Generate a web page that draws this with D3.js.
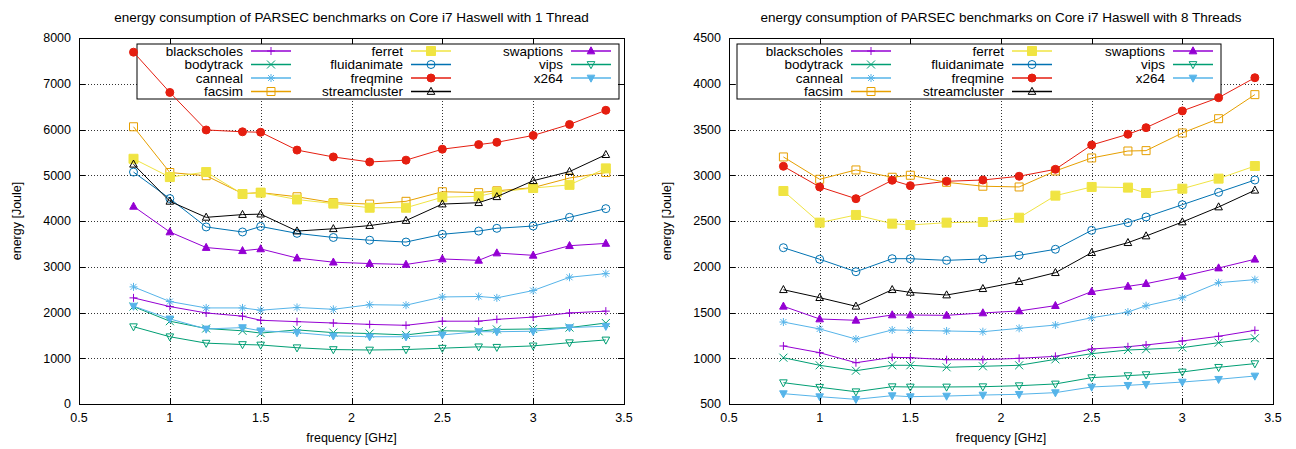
<!DOCTYPE html>
<html lang="en">

<head>
    <meta charset="UTF-8">
    <title>PARSEC energy consumption</title>
    <script src="https://cdn.jsdelivr.net/npm/d3@7"></script>
    <style>
        * {
            margin: 0;
            padding: 0;
        }

        body {
            background: #fff;
        }

        text {
            font-family: "Liberation Sans", Arial, sans-serif;
        }
    </style>
</head>

<body>
    <script>
        // frequencies measured (GHz)
        const freqs = [0.8, 1.0, 1.2, 1.4, 1.5, 1.7, 1.9, 2.1, 2.3, 2.5, 2.7, 2.8, 3.0, 3.2, 3.4];

        const benchmarks = ["blackscholes", "bodytrack", "canneal", "facsim", "ferret", "fluidanimate",
            "freqmine", "streamcluster", "swaptions", "vips", "x264"];
        const colors = ["#9400d3", "#009e73", "#56b4e9", "#e69f00", "#f0e442", "#0072b2",
            "#e51e10", "#000000", "#9400d3", "#009e73", "#56b4e9"];
        const markers = ["plus", "cross", "star", "square", "fsquare", "circle",
            "fcircle", "triangle", "ftriangle", "itriangle", "fitriangle"];

        // 1 thread (Joule)
        const t1_blackscholes = [2320, 2130, 1990, 1920, 1830, 1800, 1770, 1740, 1720, 1810, 1810, 1850, 1900, 1990, 2030];
        const t1_bodytrack = [2130, 1810, 1650, 1600, 1550, 1620, 1560, 1540, 1510, 1600, 1590, 1630, 1640, 1670, 1770];
        const t1_canneal = [2560, 2240, 2100, 2100, 2050, 2110, 2070, 2170, 2160, 2340, 2350, 2320, 2480, 2770, 2850];
        const t1_facsim = [6060, 5060, 4990, 4600, 4620, 4530, 4400, 4370, 4430, 4640, 4620, 4660, 4730, 4940, 5060];
        const t1_ferret = [5360, 4960, 5070, 4590, 4620, 4470, 4380, 4290, 4290, 4520, 4540, 4630, 4720, 4790, 5150];
        const t1_fluidanimate = [5070, 4490, 3870, 3760, 3880, 3730, 3640, 3580, 3540, 3710, 3780, 3840, 3890, 4080, 4270];
        const t1_freqmine = [7690, 6810, 5990, 5950, 5940, 5550, 5400, 5290, 5330, 5570, 5670, 5720, 5870, 6110, 6420];
        const t1_streamcluster = [5240, 4430, 4080, 4140, 4150, 3780, 3830, 3900, 4010, 4370, 4400, 4530, 4880, 5080, 5450];
        const t1_swaptions = [4320, 3760, 3420, 3350, 3390, 3190, 3100, 3070, 3050, 3170, 3140, 3300, 3250, 3460, 3510];
        const t1_vips = [1690, 1470, 1330, 1300, 1290, 1230, 1190, 1180, 1190, 1220, 1250, 1240, 1270, 1340, 1400];
        const t1_x264 = [2140, 1860, 1640, 1670, 1600, 1560, 1490, 1470, 1470, 1510, 1580, 1580, 1590, 1670, 1700];

        // 8 threads (Joule)
        const t8_blackscholes = [1134, 1061, 951, 1010, 1006, 984, 984, 999, 1021, 1101, 1126, 1145, 1189, 1240, 1305];
        const t8_bodytrack = [1006, 923, 864, 923, 923, 901, 912, 923, 988, 1050, 1090, 1098, 1116, 1170, 1218];
        const t8_canneal = [1396, 1320, 1210, 1309, 1305, 1298, 1290, 1327, 1363, 1443, 1505, 1574, 1662, 1826, 1859];
        const t8_facsim = [3200, 2956, 3058, 2978, 3000, 2923, 2880, 2872, 3047, 3189, 3265, 3269, 3462, 3618, 3881];
        const t8_ferret = [2828, 2482, 2566, 2471, 2456, 2482, 2489, 2536, 2777, 2872, 2865, 2806, 2853, 2963, 3101];
        const t8_fluidanimate = [2208, 2082, 1946, 2088, 2088, 2070, 2085, 2125, 2191, 2398, 2482, 2544, 2678, 2813, 2948];
        const t8_freqmine = [3098, 2872, 2744, 2945, 2886, 2934, 2948, 2989, 3065, 3331, 3448, 3520, 3703, 3848, 4066];
        const t8_streamcluster = [1749, 1662, 1568, 1749, 1720, 1691, 1760, 1837, 1935, 2154, 2263, 2336, 2489, 2653, 2836];
        const t8_swaptions = [1568, 1429, 1415, 1473, 1473, 1469, 1495, 1517, 1575, 1728, 1786, 1815, 1895, 1986, 2082];
        const t8_vips = [733, 683, 634, 689, 686, 686, 689, 700, 719, 788, 810, 821, 850, 901, 941];
        const t8_x264 = [613, 580, 551, 591, 580, 587, 598, 606, 624, 686, 704, 715, 740, 770, 806];

        const xTicks = [0.5, 1, 1.5, 2, 2.5, 3, 3.5];
        const yTicks1 = [0, 1000, 2000, 3000, 4000, 5000, 6000, 7000, 8000];
        const yTicks8 = [500, 1000, 1500, 2000, 2500, 3000, 3500, 4000, 4500];

        const series1 = [t1_blackscholes, t1_bodytrack, t1_canneal, t1_facsim, t1_ferret, t1_fluidanimate,
            t1_freqmine, t1_streamcluster, t1_swaptions, t1_vips, t1_x264];
        const series8 = [t8_blackscholes, t8_bodytrack, t8_canneal, t8_facsim, t8_ferret, t8_fluidanimate,
            t8_freqmine, t8_streamcluster, t8_swaptions, t8_vips, t8_x264];

        const width = 1296, height = 449;
        const svg = d3.select("body").append("svg").attr("width", width).attr("height", height);

        function markerPath(kind) {
            let s = 4;
            if (kind === "fsquare") s = 4.5;
            if (kind.includes("triangle")) s = 3.8;
            switch (kind) {
                case "plus": return `M${-s},0H${s}M0,${-s}V${s}`;
                case "cross": return `M${-s},${-s}L${s},${s}M${-s},${s}L${s},${-s}`;
                case "star": return `M${-s},0H${s}M0,${-s}V${s}M${-s * 0.75},${-s * 0.75}L${s * 0.75},${s * 0.75}M${-s * 0.75},${s * 0.75}L${s * 0.75},${-s * 0.75}`;
                case "square": case "fsquare": return `M${-s},${-s}H${s}V${s}H${-s}Z`;
                case "circle": case "fcircle": return `M${s},0A${s},${s} 0 1,1 ${-s},0A${s},${s} 0 1,1 ${s},0Z`;
                case "triangle": case "ftriangle": return `M0,${-s * 1.1}L${s},${s * 0.75}L${-s},${s * 0.75}Z`;
                default: return `M0,${s * 1.1}L${s},${-s * 0.75}L${-s},${-s * 0.75}Z`;
            }
        }

        function drawMarker(g, kind, color, x, y) {
            const filled = kind.startsWith("f");
            g.append("path")
                .attr("transform", `translate(${x},${y})`)
                .attr("d", markerPath(kind))
                .attr("fill", filled ? color : "none")
                .attr("stroke", color)
                .attr("stroke-width", 1);
        }

        function drawChart(opt) {
            const x = d3.scaleLinear().domain([0.5, 3.5]).range([opt.left, opt.right]);
            const y = d3.scaleLinear().domain(opt.yDomain).range([opt.bottom, opt.top]);
            const g = svg.append("g");

            // grid
            g.append("g").selectAll("line").data(xTicks.slice(1, -1)).join("line")
                .attr("x1", d => Math.round(x(d)) + 0.5).attr("x2", d => Math.round(x(d)) + 0.5)
                .attr("y1", opt.top).attr("y2", opt.bottom)
                .attr("stroke", "#333").attr("stroke-dasharray", "1,2");
            g.append("g").selectAll("line").data(opt.yTicks.slice(1, -1)).join("line")
                .attr("x1", opt.left).attr("x2", opt.right)
                .attr("y1", d => Math.round(y(d)) + 0.5).attr("y2", d => Math.round(y(d)) + 0.5)
                .attr("stroke", "#333").attr("stroke-dasharray", "1,2");

            // legend box (opaque, grid underneath)
            const lg = g.append("g");
            lg.append("rect")
                .attr("x", opt.legend.x).attr("y", opt.legend.y)
                .attr("width", opt.legend.w).attr("height", opt.legend.h)
                .attr("fill", "#fff").attr("stroke", "#000");
            benchmarks.forEach((name, i) => {
                const col = Math.floor(i / 4), row = i % 4;
                const tx = opt.legend.textRight + col * opt.legend.colStep;
                const ty = opt.legend.y + 7 + row * 13.5;
                lg.append("text")
                    .attr("x", tx).attr("y", ty).attr("dy", "0.35em")
                    .attr("text-anchor", "end").attr("font-size", 13.5)
                    .text(name);
                lg.append("line")
                    .attr("x1", tx + 8).attr("x2", tx + 48)
                    .attr("y1", ty).attr("y2", ty)
                    .attr("stroke", colors[i]).attr("stroke-width", 1.5);
                drawMarker(lg, markers[i], colors[i], tx + 28, ty);
            });

            // data
            const line = d3.line().x((d, j) => x(freqs[j])).y(d => y(d));
            opt.series.forEach((vals, i) => {
                const sg = g.append("g");
                sg.append("path").datum(vals)
                    .attr("d", line)
                    .attr("fill", "none")
                    .attr("stroke", colors[i])
                    .attr("stroke-width", 1);
                vals.forEach((v, j) => drawMarker(sg, markers[i], colors[i], x(freqs[j]), y(v)));
            });

            // border and ticks
            g.append("rect")
                .attr("x", opt.left + 0.5).attr("y", opt.top + 0.5)
                .attr("width", opt.right - opt.left).attr("height", opt.bottom - opt.top)
                .attr("fill", "none").attr("stroke", "#000");
            const tl = 6;
            xTicks.forEach(t => {
                const px = Math.round(x(t)) + 0.5;
                g.append("line").attr("x1", px).attr("x2", px).attr("y1", opt.bottom).attr("y2", opt.bottom - tl).attr("stroke", "#000");
                g.append("line").attr("x1", px).attr("x2", px).attr("y1", opt.top).attr("y2", opt.top + tl).attr("stroke", "#000");
                g.append("text").attr("x", x(t)).attr("y", opt.bottom + 18)
                    .attr("text-anchor", "middle").attr("font-size", 12.5).text(t);
            });
            opt.yTicks.forEach(t => {
                const py = Math.round(y(t)) + 0.5;
                g.append("line").attr("x1", opt.left).attr("x2", opt.left + tl).attr("y1", py).attr("y2", py).attr("stroke", "#000");
                g.append("line").attr("x1", opt.right).attr("x2", opt.right - tl).attr("y1", py).attr("y2", py).attr("stroke", "#000");
                g.append("text").attr("x", opt.left - 8).attr("y", y(t)).attr("dy", "0.35em")
                    .attr("text-anchor", "end").attr("font-size", 12.5).text(t);
            });

            // labels
            g.append("text").attr("x", (opt.left + opt.right) / 2).attr("y", 22)
                .attr("text-anchor", "middle").attr("font-size", 13.5).text(opt.title);
            g.append("text").attr("x", (opt.left + opt.right) / 2).attr("y", 442)
                .attr("text-anchor", "middle").attr("font-size", 12.5).text("frequency [GHz]");
            g.append("text")
                .attr("transform", `translate(${opt.left - 58},${(opt.top + opt.bottom) / 2}) rotate(-90)`)
                .attr("text-anchor", "middle").attr("font-size", 12.5).text("energy [Joule]");
        }

        drawChart({
            left: 79, right: 624, top: 38, bottom: 404,
            yDomain: [0, 8000], yTicks: yTicks1, series: series1,
            title: "energy consumption of PARSEC benchmarks on Core i7 Haswell with 1 Thread",
            legend: { x: 137, y: 44, w: 482, h: 55, textRight: 243, colStep: 160 }
        });
        drawChart({
            left: 729, right: 1273, top: 38, bottom: 404,
            yDomain: [500, 4500], yTicks: yTicks8, series: series8,
            title: "energy consumption of PARSEC benchmarks on Core i7 Haswell with 8 Threads",
            legend: { x: 737, y: 44, w: 484, h: 55, textRight: 843, colStep: 161 }
        });
    </script>
</body>

</html>
